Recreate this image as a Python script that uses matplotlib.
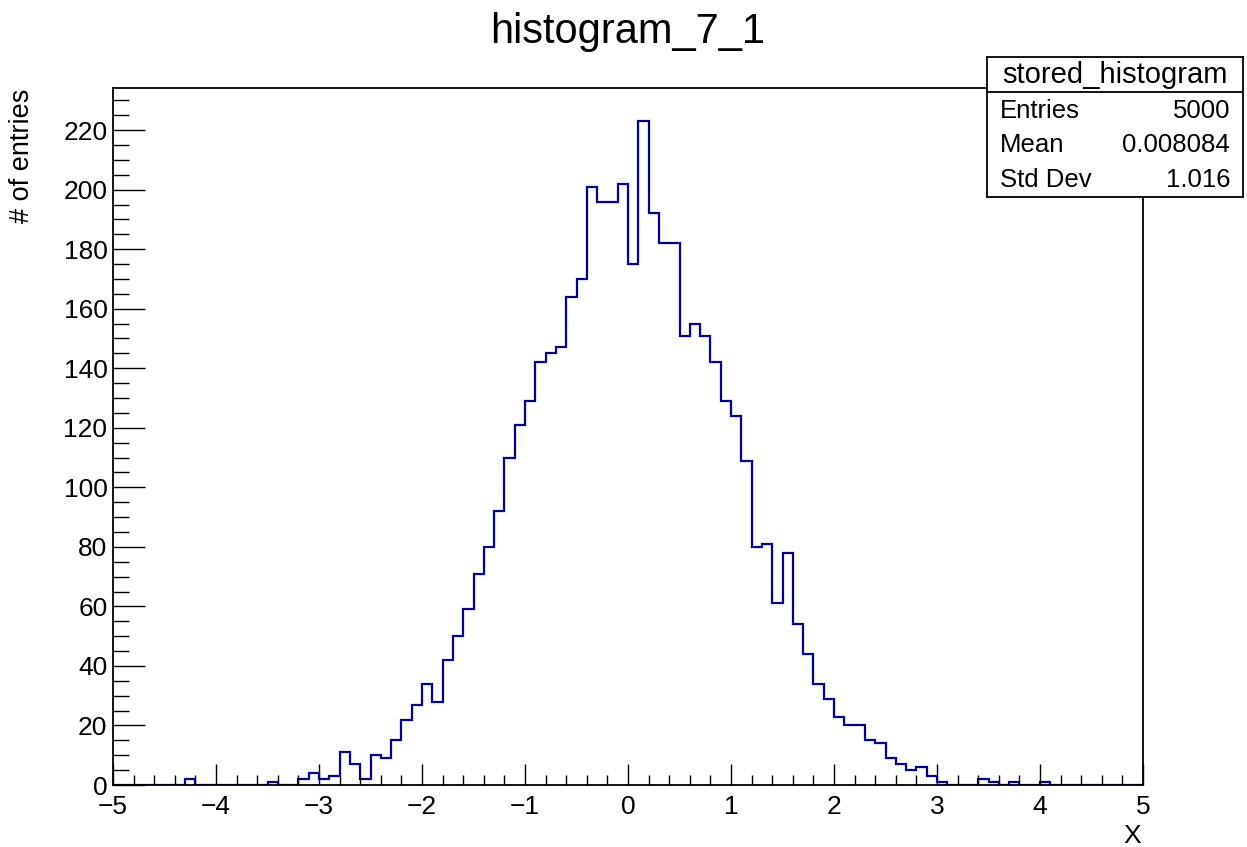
import numpy as np
import matplotlib
matplotlib.use("Agg")
import matplotlib.pyplot as plt
from matplotlib.ticker import MultipleLocator

plt.rcParams['font.family'] = ['Liberation Sans', 'DejaVu Sans']

# 100 bins from -5 to 5, counts
x_min, x_max, n_bins = -5.0, 5.0, 100
counts = [
    0, 0, 0, 0, 0, 0, 0, 2, 0, 0,
    0, 0, 0, 0, 0, 1, 0, 0, 2, 4,
    2, 3, 11, 7, 2, 10, 9, 15, 22, 27,
    34, 28, 42, 50, 59, 71, 80, 92, 110, 121,
    129, 142, 145, 147, 164, 170, 201, 196, 196, 202,
    175, 223, 192, 182, 182, 151, 155, 151, 142, 129,
    124, 109, 80, 81, 61, 78, 54, 44, 34, 29,
    23, 20, 20, 15, 14, 9, 7, 5, 6, 3,
    1, 0, 0, 0, 2, 1, 0, 1, 0, 0,
    1, 0, 0, 0, 0, 0, 0, 0, 0, 0,
]
title = "histogram_7_1"
stats_name = "stored_histogram"
stats_labels = ["Entries", "Mean", "Std Dev"]
stats_values = ["5000", "0.008084", "1.016"]

W, H = 1247, 847
fig = plt.figure(figsize=(W / 100, H / 100), dpi=100)
fig.patch.set_facecolor('white')

# axes frame in pixels: left 113, right 1143, top 88, bottom 785
ax = fig.add_axes([113 / W, (H - 785) / H, 1030 / W, 697 / H])
edges = np.linspace(x_min, x_max, n_bins + 1)
ax.stairs(counts, edges, color='#0000a0', linewidth=1.6, baseline=None, zorder=1)

ax.set_xlim(x_min, x_max)
ax.set_ylim(0, max(counts) * 1.05)
ax.xaxis.set_major_locator(MultipleLocator(1))
ax.xaxis.set_minor_locator(MultipleLocator(0.2))
ax.yaxis.set_major_locator(MultipleLocator(20))
ax.yaxis.set_minor_locator(MultipleLocator(5))
ax.tick_params(axis='both', which='both', direction='in', width=1, color='black',
               top=False, right=False, labelsize=19)
ax.tick_params(axis='y', which='major', length=23, pad=4)
ax.tick_params(axis='y', which='minor', length=11.5)
ax.tick_params(axis='x', which='major', length=15, pad=7)
ax.tick_params(axis='x', which='minor', length=7.5)
for s in ax.spines.values():
    s.set_linewidth(1.3)
    s.set_zorder(3)
ax.set_xticks(np.arange(-5, 6, 1))
ax.set_xticklabels([str(v).replace('-', '\u2212') for v in range(-5, 6)])

fig.text(628 / W, 1 - 43 / H, title, ha='center', va='baseline', fontsize=30)
fig.text(22 / W, 1 - 89 / H, "# of entries", rotation=90, ha='center', va='top', fontsize=19.5)
fig.text(1141 / W, 1 - 843 / H, "X", ha='right', va='baseline', fontsize=19)

# stats box
bx = fig.add_axes([987 / W, (H - 197) / H, 256 / W, 140 / H])
bx.set_xlim(0, 256)
bx.set_ylim(140, 0)
bx.set_xticks([])
bx.set_yticks([])
bx.set_facecolor('white')
for s in bx.spines.values():
    s.set_linewidth(1.3)
bx.axhline(35, color='black', linewidth=1.3)
bx.text(128, 18, stats_name, ha='center', va='center', fontsize=21)
for i, (lab, val) in enumerate(zip(stats_labels, stats_values)):
    yy = 54 + i * 34.5
    bx.text(13, yy, lab, ha='left', va='center', fontsize=18.5)
    bx.text(243, yy, val, ha='right', va='center', fontsize=18.5)

fig.savefig('out.png', dpi=100)
